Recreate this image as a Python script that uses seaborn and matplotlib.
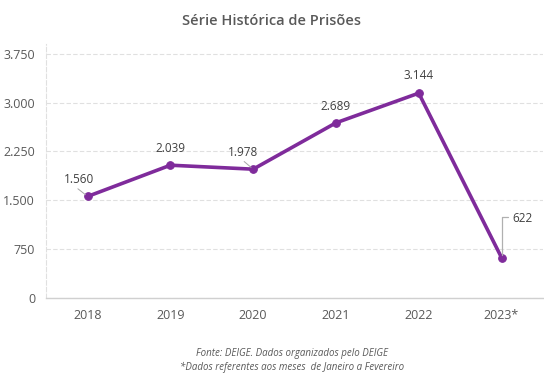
import matplotlib
matplotlib.use("Agg")
import matplotlib.pyplot as plt
import seaborn as sns
import pandas as pd

years = ["2018", "2019", "2020", "2021", "2022", "2023*"]
prisoes = [1560, 2039, 1978, 2689, 3144, 622]
yticks = [0, 750, 1500, 2250, 3000, 3750]
ytick_labels = ["0", "750", "1.500", "2.250", "3.000", "3.750"]
value_labels = ["1.560", "2.039", "1.978", "2.689", "3.144", "622"]

sns.set_theme(style="white")
plt.rcParams["font.family"] = ["Open Sans", "DejaVu Sans"]

df = pd.DataFrame({"ano": years, "prisoes": prisoes})
df["pos"] = range(len(df))

fig = plt.figure(figsize=(5.44, 3.75), dpi=100)
ax = fig.add_axes([0.085, 0.205, 0.913, 0.678])

purple = "#7F2B9B"
grey = "#595959"

sns.lineplot(data=df, x="pos", y="prisoes", ax=ax, color=purple, linewidth=2.6,
             marker="o", markersize=5.5, markeredgecolor=purple, markerfacecolor=purple,
             zorder=3)

ax.set_xlim(-0.5, 5.5)
ax.set_ylim(0, 3900)
ax.set_xticks(df["pos"])
ax.set_xticklabels(years)
ax.set_yticks(yticks)
ax.set_yticklabels(ytick_labels)
ax.set_xlabel("")
ax.set_ylabel("")
ax.tick_params(axis="both", colors=grey, labelsize=9, length=0, pad=8)
for t in ax.get_xticklabels() + ax.get_yticklabels():
    t.set_color(grey)

ax.grid(axis="y", color="#E0E0E0", linestyle=(0, (4, 2)), linewidth=0.8)
for s in ["top", "right"]:
    ax.spines[s].set_visible(False)
ax.spines["left"].set_color("#E0E0E0")
ax.spines["left"].set_linestyle((0, (4, 2)))
ax.spines["left"].set_linewidth(0.8)
ax.spines["bottom"].set_color("#D0D0D0")
ax.spines["bottom"].set_linewidth(1.0)

# data labels (offsets in points)
offsets = [(-6.5, 12), (0, 12), (-7, 12), (0, 12), (0, 12.5), (8, 28)]
has = ["center", "center", "center", "center", "center", "left"]
for i, (v, lab) in enumerate(zip(prisoes, value_labels)):
    dx, dy = offsets[i]
    ax.annotate(lab, xy=(i, v), xytext=(dx, dy), textcoords="offset points",
                fontsize=8.5, color="#404040", va="center", ha=has[i])

# leader lines
ax.annotate("", xy=(0, prisoes[0]), xytext=(-7, 5.5), textcoords="offset points",
            arrowprops=dict(arrowstyle="-", color="#A6A6A6", lw=0.7, shrinkA=0, shrinkB=2))
ax.annotate("", xy=(2, prisoes[2]), xytext=(-6.5, 5.5), textcoords="offset points",
            arrowprops=dict(arrowstyle="-", color="#A6A6A6", lw=0.7, shrinkA=0, shrinkB=2))
ax.annotate("", xy=(5, prisoes[5]), xytext=(5, 29), textcoords="offset points",
            arrowprops=dict(arrowstyle="-", color="#B0B0B0", lw=0.9, shrinkA=0, shrinkB=2,
                            connectionstyle="angle,angleA=0,angleB=90,rad=0"))

fig.text(0.5, 0.944, "Série Histórica de Prisões", ha="center", va="center",
         fontsize=10.5, color=grey, fontweight="semibold")
fig.text(0.537, 0.058, "Fonte: DEIGE. Dados organizados pelo DEIGE", ha="center",
         va="center", fontsize=7, color=grey, style="italic")
fig.text(0.537, 0.021, "*Dados referentes aos meses  de Janeiro a Fevereiro", ha="center",
         va="center", fontsize=7, color=grey, style="italic")

fig.savefig("out.png", dpi=100, facecolor="white")
